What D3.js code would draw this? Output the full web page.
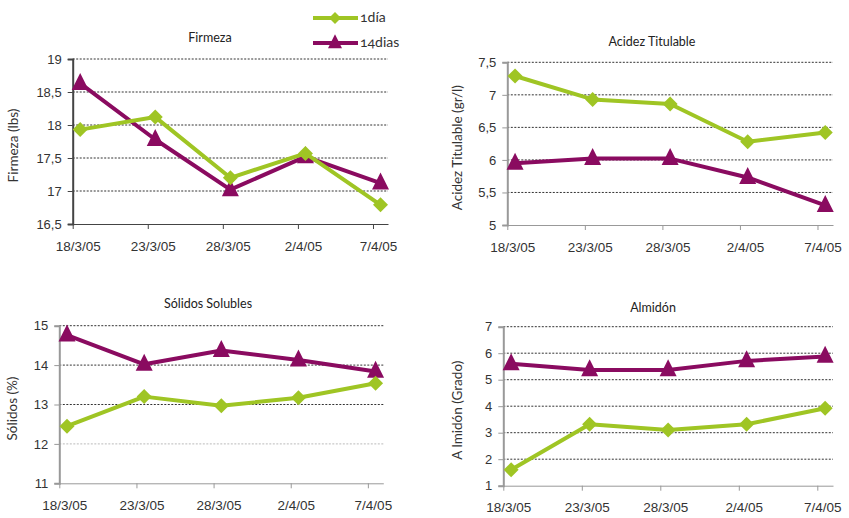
<!DOCTYPE html>
<html><head><meta charset="utf-8">
<script src="https://cdn.jsdelivr.net/npm/d3@7"></script>
<style>
body{margin:0;background:#fff;}
svg{font-family:"Lato","Noto Sans",sans-serif;font-variant-numeric:oldstyle-nums;font-feature-settings:"onum";}
</style></head>
<body><svg id="c" width="849" height="518"></svg>
<script>
// ---- data ----
const dates = ["2005-03-18","2005-03-23","2005-03-28","2005-04-02","2005-04-07"];
const tickLabels = ["18/3/05","23/3/05","28/3/05","2/4/05","7/4/05"];
const seriesNames = ["1día","14dias"];
const firmeza1  = [17.93, 18.12, 17.2, 17.57, 16.79];
const firmeza14 = [18.63, 17.78, 17.02, 17.52, 17.12];
const acidez1   = [7.29, 6.93, 6.86, 6.28, 6.42];
const acidez14  = [5.95, 6.02, 6.02, 5.73, 5.3];
const solidos1  = [12.45, 13.2, 12.97, 13.17, 13.54];
const solidos14 = [14.76, 14.02, 14.37, 14.13, 13.84];
const almidon1  = [1.6, 3.32, 3.1, 3.32, 3.92];
const almidon14 = [5.6, 5.37, 5.37, 5.71, 5.88];
const titles = ["Firmeza","Acidez Titulable","Sólidos Solubles","Almidón"];
const yTitles = ["Firmeza (lbs)","Acidez Titulable (gr/l)","Sólidos (%)","A lmidón (Grado)"];
const yTicks1 = [16.5,17,17.5,18,18.5,19];
const yTicks2 = [5,5.5,6,6.5,7,7.5];
const yTicks3 = [11,12,13,14,15];
const yTicks4 = [1,2,3,4,5,6,7];

// ---- layout ----
const GREEN = "#9fc524", PURPLE = "#8a0b60";
const parse = d3.utcParse("%Y-%m-%d");
const dayMs = 864e5;
const fmt = v => String(v).replace(".", ",");
const panels = [
  {l:72.7, r:388, t:59, b:224, ticks:yTicks1, s:[firmeza1,firmeza14], tx:210, ty:42, ytx:18, axisColor:"#444"},
  {l:507.3, r:833, t:62.3, b:225, ticks:yTicks2, s:[acidez1,acidez14], tx:652, ty:46, ytx:462, axisColor:"#999"},
  {l:59.3, r:383.3, t:325.7, b:483.3, ticks:yTicks3, s:[solidos1,solidos14], tx:208, ty:308, ytx:17, axisColor:"#999", light:[12]},
  {l:503.3, r:833, t:326.7, b:485.7, ticks:yTicks4, s:[almidon1,almidon14], tx:653, ty:312, ytx:462, axisColor:"#999"}
];
const svg = d3.select("#c");
const diamond = r => `M0,${-r}L${r},0L0,${r}L${-r},0Z`;
const tri = w => `M0,${-w*0.62}L${w/2},${w*0.38}L${-w/2},${w*0.38}Z`;

panels.forEach((p, i) => {
  const d0 = parse(dates[0]);
  const dEnd = new Date(+parse(dates[dates.length-1]) + dayMs);
  const x = d3.scaleUtc().domain([d0, dEnd]).range([p.l, p.r]);
  const ext = d3.extent(p.ticks);
  const y = d3.scaleLinear().domain(ext).range([p.b, p.t]);
  const g = svg.append("g");

  // gridlines
  g.selectAll(".grid").data(p.ticks.filter(v => v !== ext[0])).join("line")
    .attr("x1", p.l).attr("x2", p.r).attr("y1", d => y(d)).attr("y2", d => y(d))
    .attr("stroke", d => (p.light && p.light.includes(d)) ? "#bbb" : "#333")
    .attr("stroke-width", 1).attr("stroke-dasharray", "2,1.5");

  // y axis
  const ya = d3.axisLeft(y).tickValues(p.ticks).tickFormat(fmt).tickSize(5).tickPadding(6);
  const yg = g.append("g").attr("transform", `translate(${p.l},0)`).call(ya);
  yg.select(".domain").attr("stroke", p.axisColor).attr("stroke-width", 2);
  yg.selectAll(".tick line").attr("stroke", p.axisColor);
  yg.selectAll("text").attr("font-size", 13).attr("fill", "#333");

  // x axis
  const xa = d3.axisBottom(x).tickValues(dates.map(parse)).tickFormat((d, k) => tickLabels[k]).tickSize(5).tickSizeOuter(0).tickPadding(12);
  const xg = g.append("g").attr("transform", `translate(0,${p.b})`).call(xa);
  xg.select(".domain").attr("stroke", p.axisColor).attr("stroke-width", 1);
  xg.selectAll(".tick line").attr("stroke", p.axisColor);
  xg.selectAll("text").attr("font-size", 13.5).attr("fill", "#333").attr("dx", 5);

  // titles
  g.append("text").attr("x", p.tx).attr("y", p.ty).attr("text-anchor", "middle")
    .attr("font-size", 12.5).attr("fill", "#222").text(titles[i]);
  g.append("text").attr("transform", `translate(${p.ytx},${(p.t + p.b) / 2 + 4}) rotate(-90)`)
    .attr("text-anchor", "middle").attr("font-size", 13.5).attr("fill", "#333").text(yTitles[i]);

  // series
  const pts = vals => vals.map((v, k) => [x(new Date(+parse(dates[k]) + dayMs / 2)), y(v)]);
  const line = d3.line();
  [[p.s[1], PURPLE, "tri"], [p.s[0], GREEN, "dia"]].forEach(([vals, col, m]) => {
    const P = pts(vals);
    g.append("path").attr("d", line(P)).attr("fill", "none").attr("stroke", col).attr("stroke-width", 4).attr("stroke-linejoin", "round");
    g.selectAll(null).data(P).join("path")
      .attr("transform", d => `translate(${d[0]},${d[1]})`)
      .attr("d", m === "tri" ? tri(17) : diamond(7.5)).attr("fill", col);
  });
});

// legend
const leg = svg.append("g");
[[GREEN, "dia", 18, seriesNames[0]], [PURPLE, "tri", 43, seriesNames[1]]].forEach(([col, m, yy, name]) => {
  leg.append("line").attr("x1", 313).attr("x2", 358).attr("y1", yy).attr("y2", yy).attr("stroke", col).attr("stroke-width", 4);
  leg.append("path").attr("transform", `translate(335,${yy})`).attr("d", m === "tri" ? tri(14) : diamond(6)).attr("fill", col);
  leg.append("text").attr("x", 360).attr("y", yy + 4).attr("font-size", 14).attr("fill", "#333").text(name);
});
</script></body></html>
